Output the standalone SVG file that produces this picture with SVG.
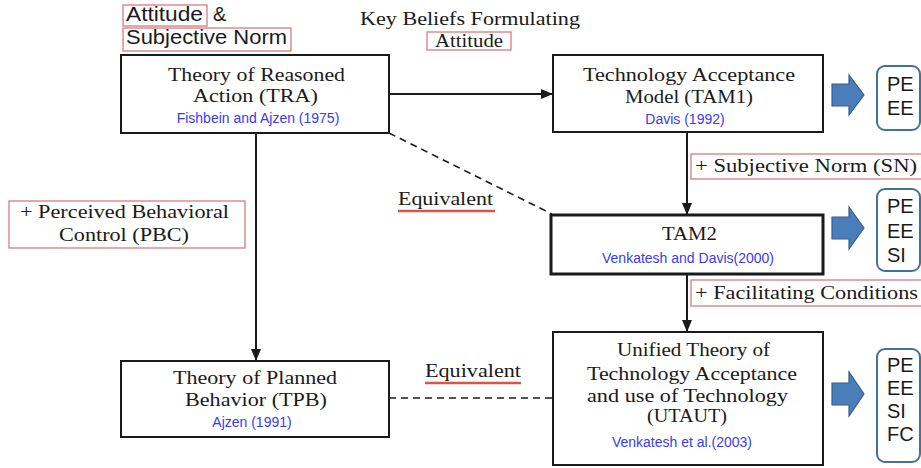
<svg xmlns="http://www.w3.org/2000/svg" width="921" height="468" viewBox="0 0 921 468">
<style>
.node{fill:#fff;stroke:#1a1a1a;stroke-width:2}
.thick{stroke-width:3}
.ser{font-family:"Liberation Serif","Times New Roman",serif;font-size:19px;fill:#1a1a1a}
.mid{text-anchor:middle}
.cite{font-family:"Liberation Sans",Arial,sans-serif;font-size:14px;fill:#3a3af0;text-anchor:middle}
.sans{font-family:"Liberation Sans",Arial,sans-serif;font-size:20px;fill:#1a1a1a}
.redbox{fill:none;stroke:#d97b7d;stroke-width:1.3}
.uline{stroke:#d9534f;stroke-width:2.5}
.conn{stroke:#1a1a1a;stroke-width:2;fill:none}
.dash{stroke:#1a1a1a;stroke-width:1.6;fill:none;stroke-dasharray:7,5}
.big{fill:#4a7ebb;stroke:#385d8a;stroke-width:1.2}
.res{fill:#fff;stroke:#41719c;stroke-width:2}
</style>
<defs>
<marker id="ah" markerWidth="12" markerHeight="10" refX="11" refY="5" orient="auto" markerUnits="userSpaceOnUse">
<path d="M0,0 L12,5 L0,10 Z" fill="#1a1a1a"/>
</marker>
</defs>
<rect width="921" height="468" fill="#fff"/>

<g id="connectors">
<line class="conn" x1="389" y1="94" x2="552" y2="94" marker-end="url(#ah)"/>
<line class="conn" x1="256" y1="133" x2="256" y2="360" marker-end="url(#ah)"/>
<line class="conn" x1="687" y1="132" x2="687" y2="214" marker-end="url(#ah)"/>
<line class="conn" x1="687" y1="274" x2="687" y2="331" marker-end="url(#ah)"/>
<line class="dash" x1="389" y1="133" x2="552" y2="214"/>
<line class="dash" x1="389" y1="398" x2="553" y2="398"/>
</g>

<g id="labels">
<rect class="redbox" x="123" y="5" width="84" height="21"/>
<text class="sans" x="126" y="21" textLength="77" lengthAdjust="spacingAndGlyphs">Attitude</text>
<text class="sans" x="213" y="21">&amp;</text>
<rect class="redbox" x="123" y="28" width="168" height="23"/>
<text class="sans" x="126" y="44" textLength="161" lengthAdjust="spacingAndGlyphs">Subjective Norm</text>
<text class="ser mid" x="470" y="25" textLength="220" lengthAdjust="spacingAndGlyphs">Key Beliefs Formulating</text>
<rect class="redbox" x="427" y="32" width="84" height="18"/>
<text class="ser mid" x="469" y="47" textLength="68" lengthAdjust="spacingAndGlyphs">Attitude</text>
<rect class="redbox" x="691" y="154" width="240" height="25"/>
<text class="ser" x="695" y="172" textLength="222" lengthAdjust="spacingAndGlyphs">+ Subjective Norm (SN)</text>
<rect class="redbox" x="691" y="280" width="240" height="26"/>
<text class="ser" x="695" y="299" textLength="223" lengthAdjust="spacingAndGlyphs">+ Facilitating Conditions</text>
<rect class="redbox" x="9" y="201" width="236" height="47"/>
<text class="ser mid" x="124.5" y="218" textLength="209" lengthAdjust="spacingAndGlyphs">+ Perceived Behavioral</text>
<text class="ser mid" x="124" y="241" textLength="130" lengthAdjust="spacingAndGlyphs">Control (PBC)</text>
<text class="ser" x="398" y="205" textLength="95" lengthAdjust="spacingAndGlyphs">Equivalent</text>
<line class="uline" x1="398" y1="211" x2="495" y2="211"/>
<text class="ser" x="425" y="377" textLength="96" lengthAdjust="spacingAndGlyphs">Equivalent</text>
<line class="uline" x1="425" y1="383" x2="521" y2="383"/>
</g>

<g id="tra">
<rect class="node" x="121" y="55" width="268" height="78"/>
<text class="ser mid" x="256.5" y="81" textLength="177" lengthAdjust="spacingAndGlyphs">Theory of Reasoned</text>
<text class="ser mid" x="255.5" y="102" textLength="125" lengthAdjust="spacingAndGlyphs">Action (TRA)</text>
<text class="cite" x="258" y="123">Fishbein and Ajzen (1975)</text>
</g>

<g id="tam1">
<rect class="node" x="553" y="55" width="270" height="77"/>
<text class="ser mid" x="689" y="81" textLength="212" lengthAdjust="spacingAndGlyphs">Technology Acceptance</text>
<text class="ser mid" x="689" y="103" textLength="128" lengthAdjust="spacingAndGlyphs">Model (TAM1)</text>
<text class="cite" x="685" y="124">Davis (1992)</text>
</g>

<g id="tam2">
<rect class="node thick" x="551" y="215" width="272" height="59"/>
<text class="ser mid" x="689.5" y="240" textLength="55" lengthAdjust="spacingAndGlyphs">TAM2</text>
<text class="cite" x="688" y="263">Venkatesh and Davis(2000)</text>
</g>

<g id="tpb">
<rect class="node" x="121" y="361" width="268" height="76"/>
<text class="ser mid" x="255" y="384" textLength="164" lengthAdjust="spacingAndGlyphs">Theory of Planned</text>
<text class="ser mid" x="256" y="406" textLength="142" lengthAdjust="spacingAndGlyphs">Behavior (TPB)</text>
<text class="cite" x="252" y="427">Ajzen (1991)</text>
</g>

<g id="utaut">
<rect class="node" x="553" y="332" width="270" height="133"/>
<text class="ser mid" x="693.5" y="356" textLength="153" lengthAdjust="spacingAndGlyphs">Unified Theory of</text>
<text class="ser mid" x="692" y="380" textLength="210" lengthAdjust="spacingAndGlyphs">Technology Acceptance</text>
<text class="ser mid" x="687.5" y="402" textLength="201" lengthAdjust="spacingAndGlyphs">and use of Technology</text>
<text class="ser mid" x="687" y="422" textLength="80" lengthAdjust="spacingAndGlyphs">(UTAUT)</text>
<text class="cite" x="682" y="447">Venkatesh et al.(2003)</text>
</g>

<g id="out1">
<polygon class="big" points="832,84 849,84 849,75 864,95 849,115 849,106 832,106"/>
<rect class="res" x="877" y="66" width="43" height="64" rx="8"/>
<text class="sans" x="887" y="91">PE</text>
<text class="sans" x="887" y="115">EE</text>
</g>

<g id="out2">
<polygon class="big" points="832,217 849,217 849,207 864,228 849,249 849,239 832,239"/>
<rect class="res" x="877" y="189" width="43" height="82" rx="8"/>
<text class="sans" x="887" y="213">PE</text>
<text class="sans" x="887" y="238">EE</text>
<text class="sans" x="887" y="262">SI</text>
</g>

<g id="out3">
<polygon class="big" points="832,383 849,383 849,372 864,394 849,416 849,405 832,405"/>
<rect class="res" x="877" y="349" width="43" height="113" rx="8"/>
<text class="sans" x="887" y="372">PE</text>
<text class="sans" x="887" y="395">EE</text>
<text class="sans" x="887" y="418">SI</text>
<text class="sans" x="887" y="441">FC</text>
</g>
</svg>
